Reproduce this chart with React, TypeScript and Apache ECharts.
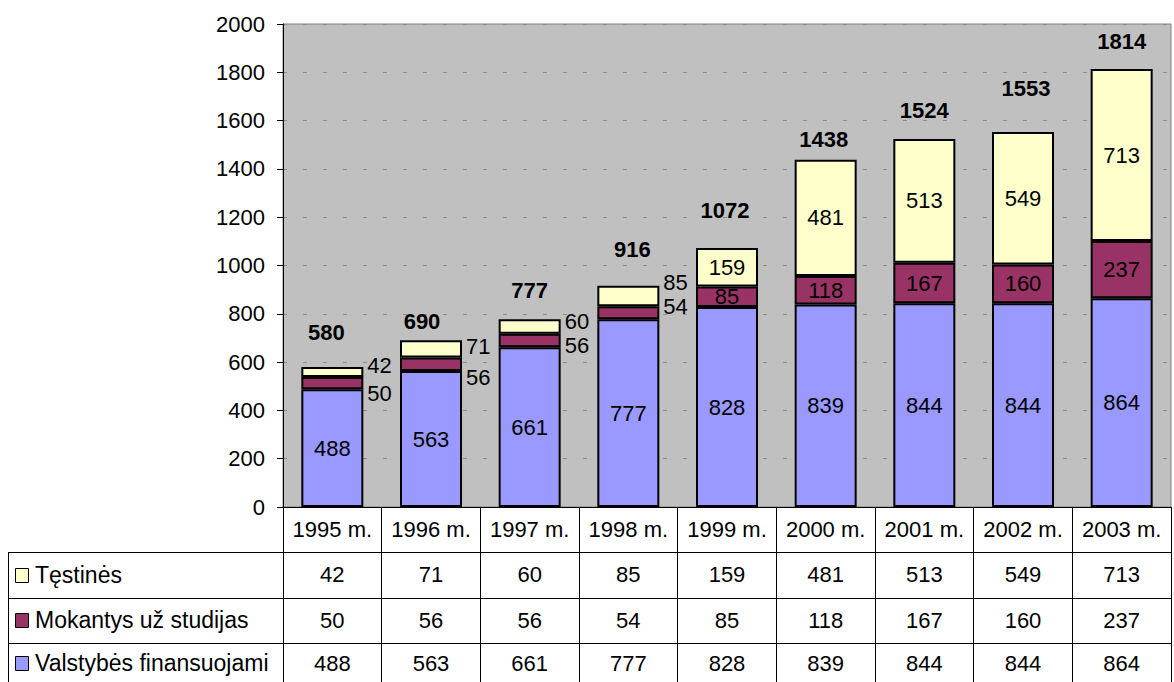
import React, { useEffect, useRef } from "react";
import * as echarts from "echarts";

const years = ["1995 m.", "1996 m.", "1997 m.", "1998 m.", "1999 m.", "2000 m.", "2001 m.", "2002 m.", "2003 m."];
const seriesNames = ["Tęstinės", "Mokantys už studijas", "Valstybės finansuojami"];
const testines = [42, 71, 60, 85, 159, 481, 513, 549, 713];
const mokantys = [50, 56, 56, 54, 85, 118, 167, 160, 237];
const valstybes = [488, 563, 661, 777, 828, 839, 844, 844, 864];
const totals = [580, 690, 777, 916, 1072, 1438, 1524, 1553, 1814];
const yTicks = [0, 200, 400, 600, 800, 1000, 1200, 1400, 1600, 1800, 2000];

// styling
const FONT = "'Liberation Sans', Arial, sans-serif";
const FS = 22;
const colors = { testines: "#FFFFCC", mokantys: "#993366", valstybes: "#9999FF" };
const outsideCount = 4; // first years whose small segments are labelled beside the bar
const testinesShift = [-7, -2, -5, -14];
const mokantysShift = [10, 13, 5, -6];
const totalLift = [35, 20, 30, 37, 39, 21, 29, 44, 28];
const totalShiftX = [-6, -9, 0, 4, -2, -2, 0, 3, 0];

export default function App() {
  const ref = useRef<HTMLDivElement>(null);
  useEffect(() => {
    if (!ref.current) return;
    const chart = echarts.init(ref.current, null, { renderer: "svg" });
    const textStyle = { fontFamily: FONT, fontSize: FS, color: "#000" };

    const smallData = (arr: number[], shifts: number[]) =>
      arr.map((v, i) =>
        i < outsideCount
          ? { value: v, label: { position: "right", distance: 4, offset: [0, shifts[i]] } }
          : v
      );

    const rowAxis = (data: string[], offset: number, tickLen: number, margin: number) => ({
      type: "category",
      gridIndex: 0,
      position: "bottom",
      offset,
      data,
      axisLine: { show: true, lineStyle: { color: "#000", width: 1 } },
      axisTick: { show: true, length: tickLen, interval: 0, lineStyle: { color: "#000", width: 1 } },
      axisLabel: { ...textStyle, margin, interval: 0 },
      splitLine: { show: false },
    });

    const keyRows = [
      { name: seriesNames[0], color: colors.testines, y: 575 },
      { name: seriesNames[1], color: colors.mokantys, y: 620 },
      { name: seriesNames[2], color: colors.valstybes, y: 663 },
    ];

    const graphic: any[] = [
      { type: "line", shape: { x1: 8, y1: 552.5, x2: 283, y2: 552.5 }, style: { stroke: "#000", lineWidth: 1 } },
      { type: "line", shape: { x1: 8, y1: 598.5, x2: 283, y2: 598.5 }, style: { stroke: "#000", lineWidth: 1 } },
      { type: "line", shape: { x1: 8, y1: 643.5, x2: 283, y2: 643.5 }, style: { stroke: "#000", lineWidth: 1 } },
      { type: "line", shape: { x1: 8.5, y1: 552, x2: 8.5, y2: 682 }, style: { stroke: "#000", lineWidth: 1 } },
    ];
    keyRows.forEach((r) => {
      graphic.push({
        type: "rect",
        shape: { x: 15.5, y: r.y - 6.5, width: 13, height: 14 },
        style: { fill: r.color, stroke: "#000", lineWidth: 1 },
      });
      graphic.push({
        type: "text",
        x: 35,
        y: r.y,
        style: { text: r.name, fontFamily: FONT, fontSize: 23, fill: "#000", verticalAlign: "middle", align: "left" },
      });
    });

    chart.setOption({
      animation: false,
      grid: {
        left: 283,
        right: 3,
        top: 24,
        bottom: 175,
        show: true,
        backgroundColor: "#C0C0C0",
        borderColor: "#808080",
        borderWidth: 1,
      },
      xAxis: [
        {
          type: "category",
          data: years,
          axisLine: { show: true, lineStyle: { color: "#000", width: 1 } },
          axisTick: { show: true, length: 45, interval: 0, lineStyle: { color: "#000", width: 1 } },
          axisLabel: { ...textStyle, margin: 11, interval: 0 },
        },
        rowAxis(testines.map(String), 45, 46, 11),
        rowAxis(mokantys.map(String), 91, 45, 11),
        rowAxis(valstybes.map(String), 136, 40, 9),
      ],
      yAxis: {
        type: "value",
        min: yTicks[0],
        max: yTicks[yTicks.length - 1],
        interval: 200,
        axisLine: { show: true, lineStyle: { color: "#000", width: 1 } },
        axisTick: { show: true, length: 6, lineStyle: { color: "#000" } },
        axisLabel: { ...textStyle, margin: 18, formatter: (v: number) => String(v) },
        splitLine: { show: true, lineStyle: { color: "#8c8c8c", type: [4, 16], width: 1 } },
      },
      series: [
        {
          name: seriesNames[2],
          type: "bar",
          stack: "total",
          barWidth: 62,
          data: valstybes,
          itemStyle: { color: colors.valstybes, borderColor: "#000", borderWidth: 2 },
          label: { show: true, position: "inside", ...textStyle, textBorderWidth: 0 },
        },
        {
          name: seriesNames[1],
          type: "bar",
          stack: "total",
          barWidth: 62,
          data: smallData(mokantys, mokantysShift),
          itemStyle: { color: colors.mokantys, borderColor: "#000", borderWidth: 2 },
          label: { show: true, position: "inside", ...textStyle, textBorderWidth: 0 },
        },
        {
          name: seriesNames[0],
          type: "bar",
          stack: "total",
          barWidth: 62,
          data: smallData(testines, testinesShift),
          itemStyle: { color: colors.testines, borderColor: "#000", borderWidth: 2 },
          label: { show: true, position: "inside", ...textStyle, textBorderWidth: 0 },
        },
        {
          name: "Iš viso",
          type: "scatter",
          symbolSize: 0,
          z: 10,
          itemStyle: { color: "#000", opacity: 1 },
          data: totals.map((v, i) => ({
            value: v,
            label: { distance: totalLift[i] - 12, offset: [totalShiftX[i], 0] },
          })),
          label: {
            show: true,
            position: "top",
            ...textStyle,
            color: "#000",
            fontWeight: "bold",
            textBorderWidth: 0,
          },
        },
      ],
      graphic,
    });
    return () => chart.dispose();
  }, []);
  return <div ref={ref} style={{ position: "absolute", left: 0, top: 0, width: 1174, height: 682 }} />;
}
